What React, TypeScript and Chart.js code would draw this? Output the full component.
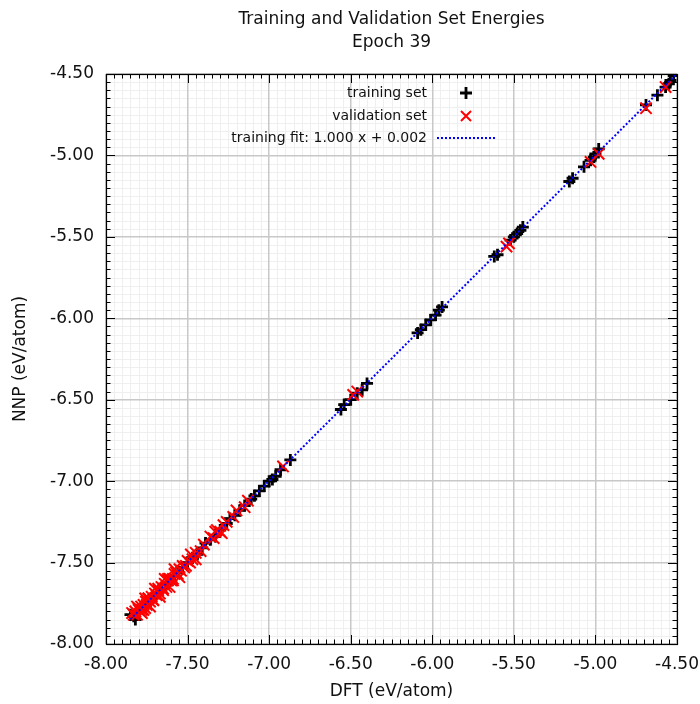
import React, { useEffect, useRef } from "react";
import { Chart, registerables } from "chart.js";

Chart.register(...registerables);

const titleLines = ["Training and Validation Set Energies", "Epoch 39"];
const xTitle = "DFT (eV/atom)";
const yTitle = "NNP (eV/atom)";
const legendLabels = ["training set", "validation set", "training fit: 1.000 x + 0.002"];

const axisMin = -8;
const axisMax = -4.5;
const majorStep = 0.5;
const minorPerMajor = 10;

const trainingDFT = [
  -4.52, -4.54, -4.55, -4.57, -4.62, -4.69, -4.98, -5.0, -5.01, -5.03, -5.07, -5.14, -5.16,
  -5.445, -5.46, -5.48, -5.5, -5.52, -5.6, -5.62, -5.94, -5.96, -5.98, -6.01, -6.04, -6.07,
  -6.09, -6.4, -6.43, -6.46, -6.5, -6.54, -6.56, -6.87, -6.93, -6.96, -6.98, -7.0, -7.03,
  -7.06, -7.09, -7.11, -7.15, -7.18, -7.21, -7.24, -7.26, -7.3, -7.33, -7.36, -7.39, -7.41,
  -7.44, -7.47, -7.5, -7.53, -7.56, -7.58, -7.6, -7.63, -7.66, -7.69, -7.72, -7.75, -7.78,
  -7.8, -7.83, -7.85, -7.82,
];
const trainingNNP = [
  -4.51, -4.54, -4.56, -4.58, -4.63, -4.69, -4.96, -4.99, -5.01, -5.03, -5.07, -5.14, -5.16,
  -5.44, -5.46, -5.48, -5.5, -5.52, -5.61, -5.62, -5.93, -5.95, -5.98, -6.01, -6.04, -6.07,
  -6.09, -6.4, -6.44, -6.46, -6.5, -6.53, -6.56, -6.87, -6.93, -6.97, -6.99, -7.0, -7.03,
  -7.06, -7.09, -7.11, -7.15, -7.18, -7.21, -7.23, -7.26, -7.3, -7.34, -7.36, -7.38, -7.41,
  -7.45, -7.47, -7.5, -7.53, -7.56, -7.58, -7.61, -7.63, -7.66, -7.69, -7.72, -7.75, -7.78,
  -7.8, -7.83, -7.82, -7.85,
];

const validationDFT = [
  -4.57, -4.69, -4.98, -5.03, -5.53, -5.545, -6.46, -6.485, -6.915, -7.13, -7.15, -7.2, -7.22,
  -7.26, -7.28, -7.3, -7.32, -7.34, -7.36, -7.4, -7.42, -7.45, -7.47, -7.485, -7.5, -7.51,
  -7.52, -7.53, -7.54, -7.55, -7.56, -7.57, -7.58, -7.59, -7.6, -7.61, -7.62, -7.63, -7.64,
  -7.65, -7.66, -7.67, -7.68, -7.69, -7.7, -7.71, -7.72, -7.73, -7.74, -7.75, -7.755, -7.76,
  -7.77, -7.78, -7.785, -7.79, -7.8, -7.81, -7.82, -7.83, -7.84, -7.8, -7.77, -7.74, -7.71,
  -7.68, -7.65, -7.62, -7.59, -7.81, -7.78, -7.76, -7.73, -7.7, -7.67, -7.64, -7.61, -7.58,
  -7.55, -7.48, -7.45, -7.33, -7.29,
];
const validationNNP = [
  -4.58, -4.71, -4.99, -5.04, -5.54, -5.56, -6.45, -6.47, -6.91, -7.12, -7.16, -7.18, -7.22,
  -7.25, -7.27, -7.31, -7.3, -7.35, -7.34, -7.39, -7.43, -7.44, -7.48, -7.5, -7.49, -7.52,
  -7.53, -7.52, -7.55, -7.54, -7.57, -7.56, -7.57, -7.6, -7.61, -7.6, -7.61, -7.65, -7.63,
  -7.66, -7.65, -7.69, -7.67, -7.7, -7.69, -7.73, -7.71, -7.74, -7.72, -7.76, -7.74, -7.78,
  -7.76, -7.79, -7.77, -7.8, -7.79, -7.82, -7.8, -7.82, -7.81, -7.78, -7.79, -7.72, -7.73,
  -7.66, -7.67, -7.6, -7.61, -7.77, -7.81, -7.72, -7.77, -7.66, -7.71, -7.6, -7.65, -7.54,
  -7.59, -7.45, -7.48, -7.31, -7.32,
];

const fitDFT = [-7.85, -4.5];
const fitNNP = [-7.848, -4.498];

const FONT = "'DejaVu Sans', 'Noto Sans', sans-serif";
const TEXT = "#111111";

const gnuplotPlugin = {
  id: "gnuplotFrame",
  beforeDraw(chart: any) {
    const { ctx, chartArea: a, scales } = chart;
    ctx.save();
    ctx.fillStyle = "#ffffff";
    ctx.fillRect(0, 0, chart.width, chart.height);
    ctx.strokeStyle = "#efefef";
    ctx.lineWidth = 1;
    const n = Math.round((axisMax - axisMin) / majorStep) * minorPerMajor;
    for (let i = 0; i <= n; i++) {
      if (i % minorPerMajor === 0) continue;
      const v = axisMin + (i * majorStep) / minorPerMajor;
      const px = Math.round(scales.x.getPixelForValue(v)) + 0.5;
      const py = Math.round(scales.y.getPixelForValue(v)) + 0.5;
      ctx.beginPath();
      ctx.moveTo(px, a.top);
      ctx.lineTo(px, a.bottom);
      ctx.moveTo(a.left, py);
      ctx.lineTo(a.right, py);
      ctx.stroke();
    }
    ctx.restore();
  },
  afterDraw(chart: any) {
    const { ctx, chartArea: a, scales } = chart;
    ctx.save();
    ctx.strokeStyle = "#000";
    ctx.lineWidth = 1;
    const n = Math.round((axisMax - axisMin) / majorStep) * minorPerMajor;
    for (let i = 0; i <= n; i++) {
      const v = axisMin + (i * majorStep) / minorPerMajor;
      const len = i % minorPerMajor === 0 ? 9 : 4.5;
      const px = Math.round(scales.x.getPixelForValue(v)) + 0.5;
      const py = Math.round(scales.y.getPixelForValue(v)) + 0.5;
      ctx.beginPath();
      ctx.moveTo(px, a.bottom);
      ctx.lineTo(px, a.bottom - len);
      ctx.moveTo(px, a.top);
      ctx.lineTo(px, a.top + len);
      ctx.moveTo(a.left, py);
      ctx.lineTo(a.left + len, py);
      ctx.moveTo(a.right, py);
      ctx.lineTo(a.right - len, py);
      ctx.stroke();
    }
    ctx.lineWidth = 1.2;
    ctx.strokeRect(Math.round(a.left) + 0.5, Math.round(a.top) + 0.5, Math.round(a.right - a.left), Math.round(a.bottom - a.top));

    ctx.fillStyle = TEXT;
    ctx.textAlign = "center";
    ctx.textBaseline = "middle";
    ctx.font = `17px ${FONT}`;
    const cx = (a.left + a.right) / 2;
    ctx.fillText(titleLines[0], cx, 20);
    ctx.fillText(titleLines[1], cx, 43);
    ctx.fillText(xTitle, cx, 692);
    ctx.save();
    ctx.translate(21, (a.top + a.bottom) / 2);
    ctx.rotate(-Math.PI / 2);
    ctx.fillText(yTitle, 0, 0);
    ctx.restore();

    ctx.font = `14px ${FONT}`;
    ctx.textAlign = "right";
    const lx = 427;
    const ly = [93, 116, 138];
    legendLabels.forEach((t, i) => ctx.fillText(t, lx, ly[i]));
    const mx = 466;
    ctx.strokeStyle = "#000";
    ctx.lineWidth = 2.8;
    ctx.beginPath();
    ctx.moveTo(mx - 6, ly[0]);
    ctx.lineTo(mx + 6, ly[0]);
    ctx.moveTo(mx, ly[0] - 6);
    ctx.lineTo(mx, ly[0] + 6);
    ctx.stroke();
    ctx.strokeStyle = "#ff0000";
    ctx.lineWidth = 2;
    ctx.beginPath();
    ctx.moveTo(mx - 5, ly[1] - 5);
    ctx.lineTo(mx + 5, ly[1] + 5);
    ctx.moveTo(mx - 5, ly[1] + 5);
    ctx.lineTo(mx + 5, ly[1] - 5);
    ctx.stroke();
    ctx.strokeStyle = "#0000ff";
    ctx.lineWidth = 2;
    ctx.setLineDash([2, 2]);
    ctx.beginPath();
    ctx.moveTo(437, ly[2]);
    ctx.lineTo(495, ly[2]);
    ctx.stroke();
    ctx.restore();
  },
};

export default function App() {
  const ref = useRef<HTMLCanvasElement | null>(null);
  useEffect(() => {
    document.body.style.margin = "0";
    const canvas = ref.current;
    if (!canvas) return;
    const pts = (xs: number[], ys: number[]) => xs.map((x, i) => ({ x, y: ys[i] }));
    const chart = new Chart(canvas, {
      type: "scatter",
      data: {
        datasets: [
          {
            label: legendLabels[2],
            type: "line",
            data: pts(fitDFT, fitNNP),
            borderColor: "#0000ff",
            borderWidth: 2,
            borderDash: [2, 2],
            pointRadius: 0,
            showLine: true,
            fill: false,
          } as any,
          {
            label: legendLabels[1],
            data: pts(validationDFT, validationNNP),
            pointStyle: "crossRot",
            pointRadius: 8,
            borderColor: "#ff0000",
            backgroundColor: "#ff0000",
            borderWidth: 2,
          },
          {
            label: legendLabels[0],
            data: pts(trainingDFT, trainingNNP),
            pointStyle: "cross",
            pointRadius: 6,
            borderColor: "#000000",
            backgroundColor: "#000000",
            borderWidth: 2.8,
          },
        ],
      },
      options: {
        animation: false,
        responsive: false,
        maintainAspectRatio: false,
        layout: { padding: { top: 74, right: 23, left: 0, bottom: 0 } },
        plugins: { legend: { display: false }, tooltip: { enabled: false }, title: { display: false } },
        scales: {
          x: {
            type: "linear",
            min: axisMin,
            max: axisMax,
            afterFit: (s: any) => {
              s.height = 60;
              s.paddingLeft = 0;
              s.paddingRight = 0;
            },
            ticks: {
              stepSize: majorStep,
              callback: (v: any) => Number(v).toFixed(2),
              font: { family: FONT, size: 17 },
              color: TEXT,
              padding: 10,
              maxRotation: 0,
              autoSkip: false,
            },
            grid: { color: "#c8c8c8", lineWidth: 1.5, drawTicks: false },
            border: { display: false },
          },
          y: {
            type: "linear",
            min: axisMin,
            max: axisMax,
            afterFit: (s: any) => {
              s.width = 106;
              s.paddingTop = 0;
              s.paddingBottom = 0;
            },
            ticks: {
              stepSize: majorStep,
              callback: (v: any) => Number(v).toFixed(2),
              font: { family: FONT, size: 17 },
              color: TEXT,
              padding: 12,
              autoSkip: false,
            },
            grid: { color: "#c8c8c8", lineWidth: 1.5, drawTicks: false },
            border: { display: false },
          },
        },
      },
      plugins: [gnuplotPlugin],
    });
    return () => chart.destroy();
  }, []);
  return (
    <div style={{ width: 700, height: 704 }}>
      <canvas ref={ref} width={700} height={704} style={{ display: "block" }} />
    </div>
  );
}
